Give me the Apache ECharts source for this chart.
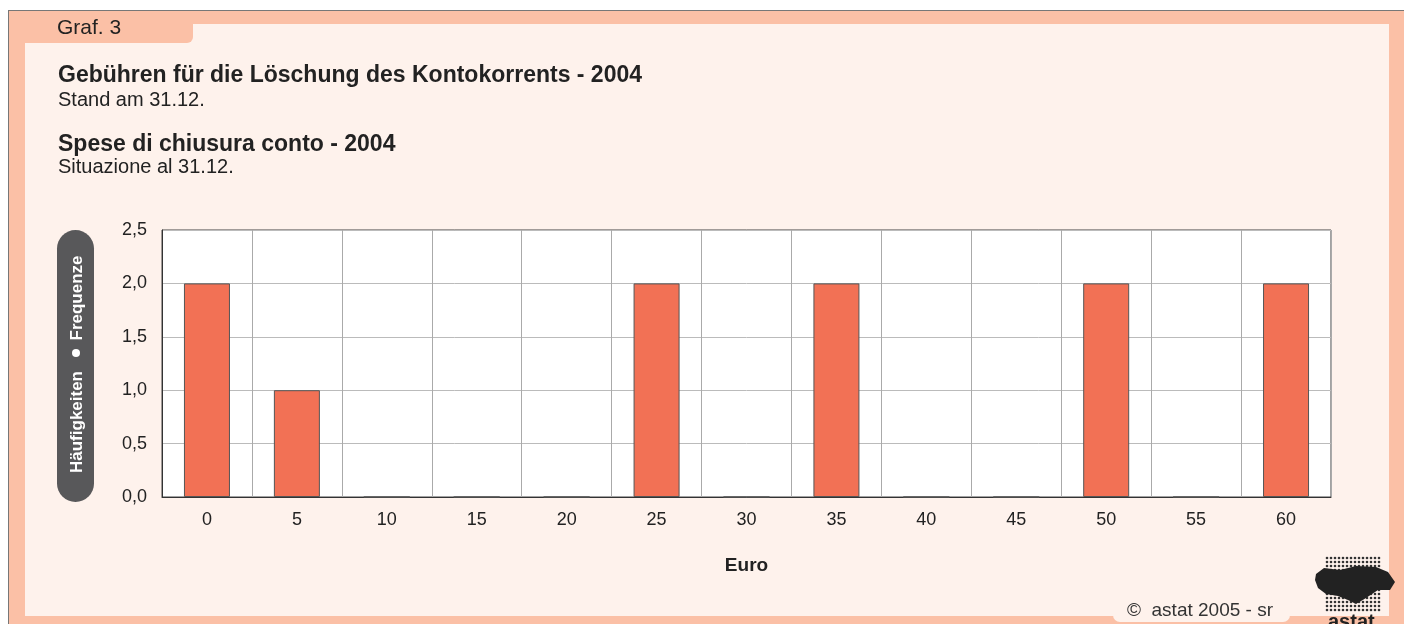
<!DOCTYPE html>
<html><head><meta charset="utf-8">
<script src="https://cdn.jsdelivr.net/npm/echarts@6/dist/echarts.min.js"></script>
<style>html,body{margin:0;padding:0;background:#fff}#c{width:1404px;height:624px}</style>
</head><body><div id="c"></div>
<script>
const categories = ['0','5','10','15','20','25','30','35','40','45','50','55','60'];
const frequencies = [2,1,0,0,0,2,0,2,0,0,2,0,2];
const yTicks = [0,0.5,1,1.5,2,2.5];

const F = '"Liberation Sans", Arial, sans-serif';
const chart = echarts.init(document.getElementById('c'), null, {renderer:'canvas'});
const peach = '#FBC0A6', light = '#FEF2EC';

// decorative logo dots
const logo = [];
for (let x = 1327; x <= 1381; x += 4) {
  for (let y = 558; y <= 612; y += 4) {
    logo.push({type:'circle', shape:{cx:x, cy:y, r:1.3}, style:{fill:'#333'}});
  }
}
logo.push({type:'polygon', shape:{points:[[1316,574],[1324,568],[1340,570],[1356,566],[1376,567],[1388,572],[1395,582],[1390,590],[1378,590],[1366,598],[1356,604],[1348,600],[1338,596],[1326,594],[1318,588],[1315,580]]}, style:{fill:'#222'}});

chart.setOption({
  animation:false,
  backgroundColor:'#fff',
  graphic:[
    {type:'rect', z:-10, shape:{x:8,y:10,width:1396,height:614}, style:{fill:peach}},
    {type:'line', z:-9, shape:{x1:8.5,y1:10,x2:8.5,y2:624}, style:{stroke:'#777',lineWidth:1}},
    {type:'line', z:-9, shape:{x1:8,y1:10.5,x2:1404,y2:10.5}, style:{stroke:'#777',lineWidth:1}},
    {type:'rect', z:-8, shape:{x:25,y:24,width:1364,height:592}, style:{fill:light}},
    {type:'rect', z:-7, shape:{x:25,y:23,width:168,height:20,r:[0,0,6,0]}, style:{fill:peach}},
    {type:'rect', z:-7, shape:{x:1113,y:600,width:177,height:22,r:[0,0,7,7]}, style:{fill:light}},
    {type:'text', left:57, top:18, style:{text:'Graf. 3', font:'21px '+F, fill:'#222'}},
    {type:'text', left:58, top:64, style:{text:'Gebühren für die Löschung des Kontokorrents - 2004', font:'bold 23px '+F, fill:'#222'}},
    {type:'text', left:58, top:90, style:{text:'Stand am 31.12.', font:'20px '+F, fill:'#222'}},
    {type:'text', left:58, top:133, style:{text:'Spese di chiusura conto - 2004', font:'bold 23px '+F, fill:'#222'}},
    {type:'text', left:58, top:157, style:{text:'Situazione al 31.12.', font:'20px '+F, fill:'#222'}},
    {type:'rect', shape:{x:57,y:230,width:37,height:272,r:18.5}, style:{fill:'#58585A'}},
    {type:'text', x:77, y:422, rotation:Math.PI/2, style:{text:'Häufigkeiten', font:'bold 17px '+F, fill:'#fff', align:'center', verticalAlign:'middle'}},
    {type:'circle', shape:{cx:76, cy:353, r:4}, style:{fill:'#fff'}},
    {type:'text', x:77, y:298, rotation:Math.PI/2, style:{text:'Frequenze', font:'bold 17px '+F, fill:'#fff', align:'center', verticalAlign:'middle'}},
    {type:'text', left:1127, top:601, style:{text:'©  astat 2005 - sr', font:'19px '+F, fill:'#333'}},
    {type:'group', children:logo},
    {type:'text', left:1328, top:612, style:{text:'astat', font:'bold 20px '+F, fill:'#222'}}
  ],
  grid:{left:162, right:73, top:230, bottom:127, show:true, backgroundColor:'#fff', borderColor:'#444', borderWidth:1},
  xAxis:{type:'category', data:categories, boundaryGap:true,
    name:'Euro', nameLocation:'middle', nameGap:59, nameTextStyle:{fontWeight:'bold', fontSize:19, color:'#222', fontFamily:F},
    axisLine:{lineStyle:{color:'#333'}}, axisTick:{show:false},
    axisLabel:{fontSize:18, color:'#222', fontFamily:F, margin:14},
    splitLine:{show:true, lineStyle:{color:'#aaa', width:1}}},
  yAxis:{type:'value', min:0, max:2.5, interval:0.5,
    axisLine:{show:true, lineStyle:{color:'#333'}}, axisTick:{show:false},
    axisLabel:{fontSize:18, color:'#222', fontFamily:F, margin:15, formatter:v=>v.toFixed(1).replace('.',',')},
    splitLine:{lineStyle:{color:'#bbb', width:1}}},
  series:[{type:'bar', data:frequencies, barWidth:46,
    itemStyle:{color:'#F27155', borderColor:'#555', borderWidth:1}}]
});
</script></body></html>
